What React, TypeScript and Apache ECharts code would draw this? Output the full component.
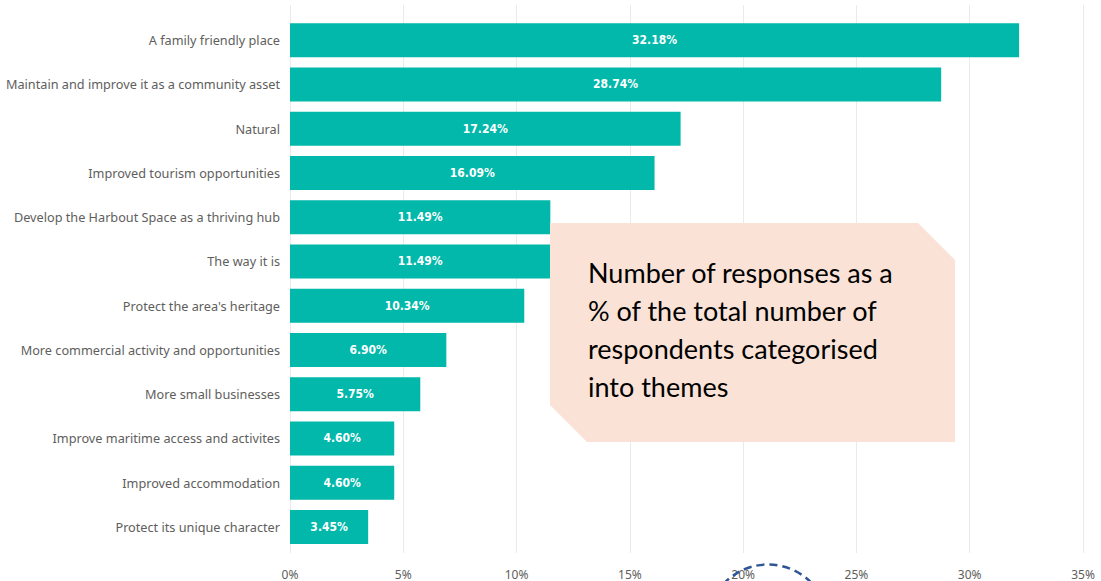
import React, { useEffect, useRef } from "react";
import * as echarts from "echarts";

const categories = [
  "A family friendly place",
  "Maintain and improve it as a community asset",
  "Natural",
  "Improved tourism opportunities",
  "Develop the Harbout Space as a thriving hub",
  "The way it is",
  "Protect the area's heritage",
  "More commercial activity and opportunities",
  "More small businesses",
  "Improve maritime access and activites",
  "Improved accommodation",
  "Protect its unique character",
];
const values = [32.18, 28.74, 17.24, 16.09, 11.49, 11.49, 10.34, 6.9, 5.75, 4.6, 4.6, 3.45];
const calloutLines = [
  "Number of responses as a",
  "% of the total number of",
  "respondents categorised",
  "into themes",
];

export default function App() {
  const ref = useRef<HTMLDivElement>(null);
  useEffect(() => {
    document.body.style.margin = "0";
    const chart = echarts.init(ref.current!, null, { renderer: "svg" });
    chart.setOption({
      animation: false,
      backgroundColor: "#ffffff",
      grid: [
        { left: 290, right: 18, top: 5, bottom: 28, containLabel: false },
        { left: 290, right: 18, top: 18, bottom: 32, containLabel: false },
      ],
      xAxis: [
        {
          type: "value",
          gridIndex: 0,
          min: 0,
          max: 35,
          interval: 5,
          axisLabel: {
            formatter: (v: number) => v + "%",
            color: "#605E5C",
            fontSize: 12,
            fontFamily: "Noto Sans",
            margin: 15,
          },
          axisLine: { show: false },
          axisTick: { show: false },
          splitLine: { lineStyle: { color: "#EAEAEA", width: 1 } },
        },
        {
          type: "value",
          gridIndex: 1,
          min: 0,
          max: 35,
          interval: 5,
          show: false,
          splitLine: { show: false },
        },
      ],
      yAxis: [
        {
          type: "category",
          gridIndex: 0,
          data: categories,
          show: false,
        },
        {
          type: "category",
          gridIndex: 1,
          data: categories,
          inverse: true,
          axisLine: { show: false },
          axisTick: { show: false },
          axisLabel: {
            color: "#605E5C",
            fontSize: 12.7,
            fontFamily: "Noto Sans",
            margin: 10,
          },
        },
      ],
      series: [
        {
          type: "bar",
          xAxisIndex: 1,
          yAxisIndex: 1,
          data: values,
          barWidth: 34,
          itemStyle: { color: "#01B8AA" },
          label: {
            show: true,
            position: "inside",
            color: "#ffffff",
            fontWeight: "bold",
            fontSize: 12,
            fontFamily: "DejaVu Sans Condensed",
            formatter: (p: any) => p.value.toFixed(2) + "%",
          },
        },
      ],
      graphic: [
        {
          type: "polygon",
          shape: {
            points: [
              [550, 223],
              [918, 223],
              [955, 260],
              [955, 442],
              [587, 442],
              [550, 405],
            ],
          },
          style: { fill: "#FAE3D6" },
          z: 10,
        },
        ...calloutLines.map((t, i) => ({
          type: "text",
          x: 588,
          y: 272 + i * 38.3,
          style: {
            text: t,
            fill: "#000000",
            fontSize: 27,
            fontFamily: "Lato",
            verticalAlign: "middle",
          },
          z: 11,
        })),
        {
          type: "circle",
          shape: { cx: 768, cy: 625, r: 60.5 },
          style: {
            fill: "none",
            stroke: "#2F5597",
            lineWidth: 2.5,
            lineDash: [8, 5],
          },
          z: 12,
        },
      ],
    });
    return () => chart.dispose();
  }, []);
  return <div ref={ref} style={{ width: 1101, height: 581 }} />;
}
